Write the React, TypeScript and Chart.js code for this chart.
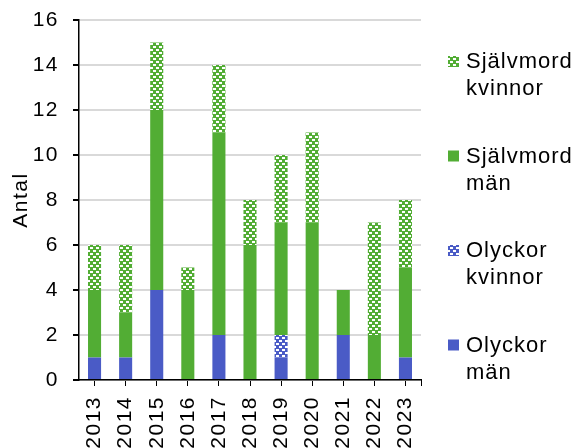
import React, { useEffect, useRef } from "react";
import { Chart, registerables } from "chart.js";

Chart.register(...registerables);

const years = ["2013", "2014", "2015", "2016", "2017", "2018", "2019", "2020", "2021", "2022", "2023"];
const olyckorMan = [1, 1, 4, 0, 2, 0, 1, 0, 2, 0, 1];
const olyckorKvinnor = [0, 0, 0, 0, 0, 0, 1, 0, 0, 0, 0];
const sjalvmordMan = [3, 2, 8, 4, 9, 6, 5, 7, 2, 2, 4];
const sjalvmordKvinnor = [2, 3, 3, 1, 3, 2, 3, 4, 0, 5, 3];
const yTicks = [0, 2, 4, 6, 8, 10, 12, 14, 16];

const BLUE = "#4A5BC6";
const GREEN = "#52AD34";
const FONT = "'Liberation Sans', Arial, sans-serif";

function makePattern(color: string): CanvasPattern | string {
  const tile = document.createElement("canvas");
  tile.width = 6;
  tile.height = 6;
  const c = tile.getContext("2d");
  if (!c) return color;
  c.fillStyle = color;
  c.fillRect(0, 0, 6, 6);
  c.fillStyle = "#ffffff";
  c.fillRect(0, 1, 3, 2);
  c.fillRect(3, 4, 3, 2);
  const p = c.createPattern(tile, "repeat");
  return p || color;
}

export default function App() {
  const ref = useRef<HTMLCanvasElement | null>(null);

  useEffect(() => {
    document.body.style.margin = "0";
    const canvas = ref.current;
    if (!canvas) return;
    const ctx = canvas.getContext("2d");
    if (!ctx) return;
    const greenPat = makePattern(GREEN);
    const bluePat = makePattern(BLUE);

    const legendItems = [
      { lines: ["Självmord", "kvinnor"], fill: greenPat },
      { lines: ["Självmord", "män"], fill: GREEN },
      { lines: ["Olyckor", "kvinnor"], fill: bluePat },
      { lines: ["Olyckor", "män"], fill: BLUE },
    ];

    const customPlugin = {
      id: "custom",
      beforeDraw(chart: any) {
        (chart.ctx as any).letterSpacing = "1.5px";
      },
      afterDraw(chart: any) {
        const c = chart.ctx;
        const a = chart.chartArea;
        c.save();
        c.strokeStyle = "#000";
        c.lineWidth = 1;
        c.beginPath();
        c.moveTo(a.right + 0.5, a.bottom);
        c.lineTo(a.right + 0.5, a.bottom + 6);
        c.stroke();
        c.font = "22px " + FONT;
        (c as any).letterSpacing = "1px";
        c.textBaseline = "middle";
        legendItems.forEach((it, i) => {
          const y = 61 + i * 94.5;
          c.fillStyle = it.fill as any;
          c.fillRect(448, y - 5, 11, 11);
          c.fillStyle = "#000";
          c.fillText(it.lines[0], 466, y + 1);
          c.fillText(it.lines[1], 466, y + 28);
        });
        c.restore();
      },
    };

    const chart = new Chart(ctx, {
      type: "bar",
      data: {
        labels: years,
        datasets: [
          { label: "Olyckor män", data: olyckorMan, backgroundColor: BLUE },
          { label: "Olyckor kvinnor", data: olyckorKvinnor, backgroundColor: bluePat as any },
          { label: "Självmord män", data: sjalvmordMan, backgroundColor: GREEN },
          { label: "Självmord kvinnor", data: sjalvmordKvinnor, backgroundColor: greenPat as any },
        ],
      },
      options: {
        animation: false,
        responsive: false,
        maintainAspectRatio: false,
        devicePixelRatio: 1,
        layout: { padding: { top: 20, right: 154, bottom: 0, left: 0 } },
        datasets: { bar: { barPercentage: 0.42, categoryPercentage: 1 } },
        plugins: {
          legend: { display: false },
          tooltip: { enabled: false },
        },
        scales: {
          x: {
            stacked: true,
            afterFit: (s: any) => {
              s.height = 68;
              s.paddingLeft = 0;
              s.paddingRight = 0;
            },
            grid: {
              display: true,
              drawOnChartArea: false,
              offset: false,
              tickColor: "#000",
              tickLength: 6,
            },
            border: { display: true, color: "#000", width: 1.5 },
            ticks: {
              color: "#000",
              font: { family: FONT, size: 21 },
              minRotation: 90,
              maxRotation: 90,
              padding: 10,
              autoSkip: false,
            },
          },
          y: {
            stacked: true,
            min: 0,
            max: 16,
            afterFit: (s: any) => {
              s.width = 79;
              s.paddingTop = 0;
              s.paddingBottom = 0;
            },
            afterBuildTicks: (s: any) => {
              s.ticks = yTicks.map((v) => ({ value: v }));
            },
            grid: {
              color: "#D9D9D9",
              lineWidth: 2,
              tickColor: "#000",
              tickLength: 6,
              drawTicks: true,
            },
            border: { display: true, color: "#000", width: 1.5 },
            ticks: {
              color: "#000",
              font: { family: FONT, size: 21 },
              padding: 14,
            },
            title: {
              display: true,
              text: "Antal",
              color: "#000",
              font: { family: FONT, size: 21 },
              padding: { top: 9, bottom: 0 },
            },
          },
        },
      },
      plugins: [customPlugin],
    });
    return () => chart.destroy();
  }, []);

  return (
    <div style={{ width: 575, height: 448, position: "relative" }}>
      <canvas ref={ref} width={575} height={448} style={{ display: "block", width: 575, height: 448 }} />
    </div>
  );
}
